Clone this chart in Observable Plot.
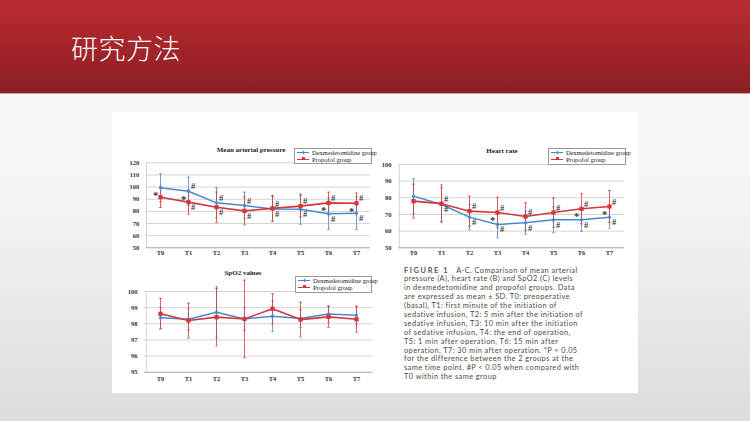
<!DOCTYPE html>
<html><head><meta charset="utf-8">
<script src="https://cdn.jsdelivr.net/npm/d3@7"></script>
<script src="https://cdn.jsdelivr.net/npm/@observablehq/plot@0.6"></script>
<style>
body{margin:0;width:750px;height:421px;position:relative;overflow:hidden;background:linear-gradient(#fafafa 0px,#f4f4f4 200px,#dcdcdc 421px);}
#header{position:absolute;left:0;top:0;width:750px;height:93px;background:linear-gradient(#bb2b31,#8b1f23);border-bottom:1px solid #d49a9a;}
#title{position:absolute;left:71px;top:28px;color:#fff;font-family:"Noto Sans CJK SC";font-size:27px;font-weight:300;letter-spacing:0.5px;}
#figure{position:absolute;left:112px;top:112px;width:526px;height:281px;background:#fff;}
.chart{position:absolute;}
.ctitle{position:absolute;font-family:"Liberation Serif";font-weight:bold;font-size:7px;color:#222;text-align:center;white-space:nowrap;}
.legend{position:absolute;background:#fff;border:1px solid #9a9a9a;box-sizing:border-box;font-family:"Liberation Serif";font-size:6.5px;color:#222;padding:1px 2px;}
.legend div{height:6.8px;line-height:6.8px;white-space:nowrap;}
.sw{display:inline-block;width:12px;height:1.4px;position:relative;vertical-align:middle;margin-right:3px;top:-1px;}
.sw i{position:absolute;left:4.5px;top:-1.3px;width:3px;height:3px;}
#caption{position:absolute;left:404px;top:266.5px;font-family:"Lato";font-size:7.4px;letter-spacing:0.42px;color:#4a4a4a;}
#caption div{height:8.9px;line-height:8.9px;white-space:nowrap;}
#caption b{letter-spacing:1.6px;color:#555;margin-right:7px;}
</style></head>
<body>
<div id="header"><div id="title">研究方法</div></div>
<div id="figure"></div>
<div id="charts"></div>
<div id="caption"></div>
<script>
// ---- data ----
const timePoints = ["T0","T1","T2","T3","T4","T5","T6","T7"];
const seriesNames = ["Dexmedetomidine group","Propofol group"];

const mapDex   = [99.4, 96.6, 87.0, 84.8, 82.0, 81.8, 78.0, 78.5];
const mapDexSd = [11.5, 11.5, 12.4, 11.0, 10.5, 12.5, 13.0, 13.5];
const mapPro   = [91.7, 87.6, 83.4, 80.4, 82.5, 84.3, 87.0, 86.7];
const mapProSd = [8.5, 10.0, 12.5, 11.5, 10.5, 9.0, 8.8, 8.3];
const mapTicks = [50, 60, 70, 80, 90, 100, 110, 120];

const hrDex   = [81.0, 76.0, 68.4, 64.0, 65.0, 66.8, 66.8, 68.4];
const hrDexSd = [10.4, 10.0, 7.6, 8.0, 7.0, 7.8, 7.0, 6.6];
const hrPro   = [78.0, 76.5, 72.0, 71.2, 68.8, 71.2, 73.4, 74.8];
const hrProSd = [10.2, 11.2, 9.0, 9.2, 8.2, 8.8, 9.0, 9.6];
const hrTicks = [50, 60, 70, 80, 90, 100];

const spoDex   = [98.37, 98.28, 98.72, 98.30, 98.47, 98.33, 98.60, 98.53];
const spoDexSd = [0.65, 0.65, 1.58, 0.70, 0.95, 0.55, 0.50, 0.55];
const spoPro   = [98.62, 98.20, 98.41, 98.30, 98.93, 98.26, 98.43, 98.28];
const spoProSd = [0.95, 1.08, 1.78, 2.40, 0.93, 1.08, 0.65, 0.80];
const spoTicks = [95, 96, 97, 98, 99, 100];

// significance marks: [time point, series, label, placement]
const mapMarks = [
  ["T0","dex","*","star"],
  ["T1","dex","#","above"],["T1","dex","*","star"],["T1","pro","#","below"],
  ["T2","dex","#","above"],["T2","pro","#","below"],
  ["T3","dex","#","above"],["T3","pro","#","below"],
  ["T4","pro","#","above"],["T4","dex","#","below"],
  ["T5","pro","#","above"],["T5","dex","#","below"],
  ["T6","pro","#","above"],["T6","pro","*","star"],["T6","dex","#","below"],
  ["T7","pro","#","above"],["T7","pro","*","star"],["T7","dex","#","below"]
];
const hrMarks = [
  ["T1","pro","#","above"],["T1","dex","#","below"],
  ["T2","pro","#","above"],["T2","dex","#","below"],
  ["T3","pro","#","above"],["T3","pro","*","star"],["T3","dex","#","below"],
  ["T4","pro","#","above"],["T4","dex","#","below"],
  ["T5","pro","#","above"],["T5","dex","#","below"],
  ["T6","pro","#","above"],["T6","pro","*","star"],["T6","dex","#","below"],
  ["T7","pro","#","above"],["T7","pro","*","star"],["T7","dex","#","below"]
];

const captionHead = "FIGURE 1";
const captionLines = [
  "A-C. Comparison of mean arterial",
  "pressure (A), heart rate (B) and SpO2 (C) levels",
  "in dexmedetomidine and propofol groups. Data",
  "are expressed as mean ± SD. T0: preoperative",
  "(basal), T1: first minute of the initiation of",
  "sedative infusion, T2: 5 min after the initiation of",
  "sedative infusion, T3: 10 min after the initiation",
  "of sedative infusion, T4: the end of operation,",
  "T5: 1 min after operation, T6: 15 min after",
  "operation, T7: 30 min after operation. *P < 0.05",
  "for the difference between the 2 groups at the",
  "same time point. #P < 0.05 when compared with",
  "T0 within the same group"
];

// ---- drawing ----
const BLUE = "#4a88cc", RED = "#d4373b";
const capSymbol = {draw(ctx, size){ const r = Math.sqrt(size/Math.PI); ctx.moveTo(-r,0); ctx.lineTo(r,0); }};
const place = {above:{dx:4.5,dy:-4.5,fs:8.5}, below:{dx:4.5,dy:5,fs:8.5}, star:{dx:-5,dy:8,fs:10.5}};

function chart(o){
  const rows = timePoints.flatMap((t,i)=>[
    {t, g:"dex", v:o.dex[i], lo:o.dex[i]-o.dexSd[i], hi:o.dex[i]+o.dexSd[i]},
    {t, g:"pro", v:o.pro[i], lo:o.pro[i]-o.proSd[i], hi:o.pro[i]+o.proSd[i]}
  ]);
  const dexRows = rows.filter(d=>d.g==="dex"), proRows = rows.filter(d=>d.g==="pro");
  const caps = rows.flatMap(d=>[{t:d.t,g:d.g,y:d.lo},{t:d.t,g:d.g,y:d.hi}]);
  const val = {dex:o.dex, pro:o.pro};
  const ann = (o.marks||[]).map(([t,g,label,p])=>({t, v:val[g][timePoints.indexOf(t)], label, p}));
  const plotW = o.width - o.ml - o.mr;
  const yMin = o.ticks[0], yMax = o.ticks[o.ticks.length-1];
  const marks = [
    Plot.gridY(o.ticks.slice(1), {stroke:"#c9c9c9", strokeOpacity:1, strokeWidth:0.8}),
    Plot.ruleX([timePoints[0]], {dx:-plotW/16, stroke:"#c9c9c9", strokeWidth:0.8}),
    Plot.ruleY([yMin], {stroke:"#9a9a9a", strokeWidth:0.9}),
    Plot.ruleX(dexRows, {x:"t", y1:"lo", y2:"hi", stroke:BLUE, strokeWidth:0.8}),
    Plot.dot(caps.filter(d=>d.g==="dex"), {x:"t", y:"y", symbol:capSymbol, r:1.3, stroke:BLUE, strokeWidth:0.8}),
    Plot.ruleX(proRows, {x:"t", y1:"lo", y2:"hi", stroke:RED, strokeWidth:0.8}),
    Plot.dot(caps.filter(d=>d.g==="pro"), {x:"t", y:"y", symbol:capSymbol, r:1.3, stroke:RED, strokeWidth:0.8}),
    Plot.line(dexRows, {x:"t", y:"v", stroke:BLUE, strokeWidth:1.5}),
    Plot.line(proRows, {x:"t", y:"v", stroke:RED, strokeWidth:1.6}),
    Plot.dot(dexRows, {x:"t", y:"v", symbol:"diamond", r:1.8, fill:BLUE}),
    Plot.dot(proRows, {x:"t", y:"v", symbol:"square", r:2.4, fill:RED})
  ];
  for (const p of ["above","below","star"]) {
    marks.push(Plot.text(ann.filter(d=>d.p===p), {x:"t", y:"v", text:"label", dx:place[p].dx, dy:place[p].dy,
      fontSize:place[p].fs, fontWeight:"bold", fill:"#3a3a3a", fontFamily:"Liberation Serif"}));
  }
  const svg = Plot.plot({
    width:o.width, height:o.height,
    marginLeft:o.ml, marginRight:o.mr, marginTop:o.mt, marginBottom:o.mb,
    style:{fontFamily:"Liberation Serif", fontSize:"6.5px", fontWeight:"bold", color:"#333", background:"transparent", overflow:"visible"},
    x:{type:"point", domain:timePoints, padding:0.5, tickSize:0, tickPadding:o.xpad, label:null},
    y:{domain:[yMin,yMax], ticks:o.ticks, tickSize:0, tickPadding:7, label:null, tickFormat:d=>String(d)},
    marks
  });
  svg.classList.add("chart");
  svg.style.left = o.left+"px"; svg.style.top = o.top+"px";
  document.getElementById("charts").appendChild(svg);
}

function titleDiv(text, cx, cy){
  const d = document.createElement("div");
  d.className = "ctitle"; d.textContent = text;
  d.style.left = (cx-60)+"px"; d.style.width = "120px"; d.style.top = (cy-5)+"px";
  document.getElementById("charts").appendChild(d);
}
function legendDiv(left, top, w, h){
  const d = document.createElement("div");
  d.className = "legend";
  Object.assign(d.style, {left:left+"px", top:top+"px", width:w+"px", height:h+"px"});
  const colors = [BLUE, RED];
  seriesNames.forEach((n,i)=>{
    const row = document.createElement("div");
    const sw = document.createElement("span"); sw.className="sw"; sw.style.background = colors[i];
    const mk = document.createElement("i"); mk.style.background = colors[i];
    if (i===0){ mk.style.transform="rotate(45deg) scale(0.8)"; }
    sw.appendChild(mk); row.appendChild(sw);
    row.appendChild(document.createTextNode(n));
    d.appendChild(row);
  });
  document.getElementById("charts").appendChild(d);
}

chart({dex:mapDex, dexSd:mapDexSd, pro:mapPro, proSd:mapProSd, ticks:mapTicks, marks:mapMarks,
  left:113, top:145, width:262, height:120, ml:32.7, mr:5, mt:17.3, mb:17.7, xpad:3});
chart({dex:hrDex, dexSd:hrDexSd, pro:hrPro, proSd:hrProSd, ticks:hrTicks, marks:hrMarks,
  left:380, top:147, width:258, height:118, ml:18, mr:14, mt:17, mb:17.7, xpad:3});
chart({dex:spoDex, dexSd:spoDexSd, pro:spoPro, proSd:spoProSd, ticks:spoTicks, marks:[],
  left:113, top:275, width:265, height:115, ml:31, mr:5.4, mt:16, mb:18.3, xpad:4});

titleDiv("Mean arterial pressure", 251, 151);
titleDiv("Heart rate", 502, 152);
titleDiv("SpO2 values", 243, 274);
legendDiv(294, 148, 78, 16);
legendDiv(548, 148, 78, 17);
legendDiv(295, 276, 77, 17);

const cap = document.getElementById("caption");
captionLines.forEach((line, i) => {
  const row = document.createElement("div");
  if (i === 0) {
    const b = document.createElement("b"); b.textContent = captionHead;
    row.appendChild(b);
    const s = document.createElement("span"); s.textContent = line;
    row.appendChild(s);
  } else {
    row.textContent = line;
  }
  cap.appendChild(row);
});
</script>
</body></html>
